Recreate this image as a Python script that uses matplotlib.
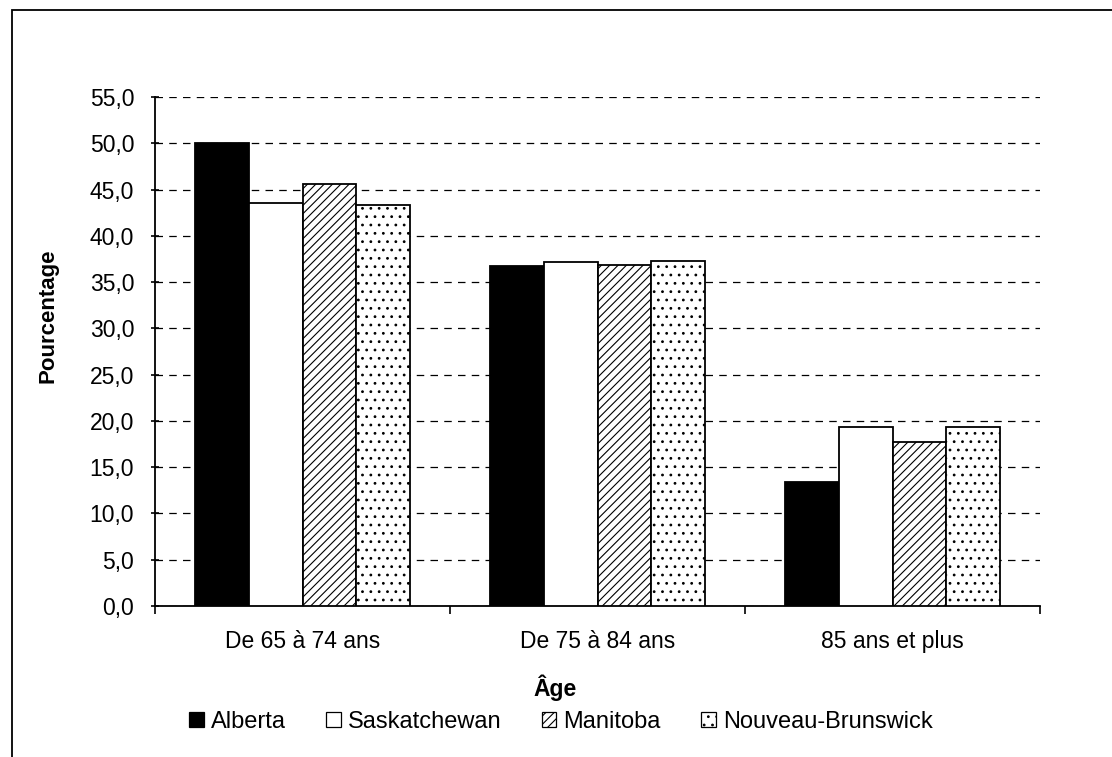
import numpy as np
import matplotlib
matplotlib.use("Agg")
from matplotlib import pyplot as plt
from matplotlib.patches import Rectangle
from matplotlib.ticker import FuncFormatter, MultipleLocator

plt.rcParams['font.family'] = ['Liberation Sans', 'DejaVu Sans']
plt.rcParams['hatch.linewidth'] = 0.8

# donnees
groupes = ['De 65 à 74 ans', 'De 75 à 84 ans', '85 ans et plus']
provinces = ['Alberta', 'Saskatchewan', 'Manitoba', 'Nouveau-Brunswick']
alberta = [50.0, 36.7, 13.4]
saskatchewan = [43.5, 37.2, 19.3]
manitoba = [45.6, 36.9, 17.7]
nouveau_brunswick = [43.3, 37.3, 19.3]
series = [alberta, saskatchewan, manitoba, nouveau_brunswick]

couleurs = ['black', 'white', 'white', 'white']
hachures = [None, None, '////', '..']

fig = plt.figure(figsize=(11.12, 7.57), dpi=100)
ax = fig.add_axes([155/1112, 1-606/757, 885/1112, 509/757])

x = np.arange(len(groupes))
w = 0.183
for i, vals in enumerate(series):
    ax.bar(x + (i - 1.5)*w, vals, w, color=couleurs[i], edgecolor='black',
           linewidth=1.3, hatch=hachures[i], label=provinces[i], zorder=3)

ax.set_xlim(-0.5, 2.5)
ax.set_ylim(0, 55)
ax.yaxis.set_major_locator(MultipleLocator(5))
ax.yaxis.set_major_formatter(FuncFormatter(lambda v, p: f"{v:.1f}".replace('.', ',')))
ax.grid(axis='y', color='black', linestyle=(0, (6, 5)), linewidth=0.9, zorder=0)

ax.set_xticks(x)
ax.set_xticklabels(groupes, fontsize=16.5)
ax.set_xticks([-0.5, 0.5, 1.5, 2.5], minor=True)
ax.tick_params(axis='x', which='major', length=0, pad=17)
ax.tick_params(axis='x', which='minor', length=6, width=1.2, direction='out')
ax.tick_params(axis='y', length=6, width=1.2, direction='inout', labelsize=16.5, pad=12)

for s in ['top', 'right']:
    ax.spines[s].set_visible(False)
ax.spines['left'].set_linewidth(1.3)
ax.spines['bottom'].set_linewidth(1.3)

fig.text(555/1112, 1-688/757, 'Âge', ha='center', va='center', fontsize=16.5, fontweight='bold')
fig.text(48/1112, 1-316/757, 'Pourcentage', ha='center', va='center', rotation=90,
         fontsize=16, fontweight='bold')

handles, labels = ax.get_legend_handles_labels()
leg = fig.legend(handles, labels, loc='center', bbox_to_anchor=(561/1112, 1-722/757),
                 ncol=4, frameon=False, fontsize=17, handlelength=0.62, handleheight=0.62,
                 handletextpad=0.3, columnspacing=1.7)
for h in leg.legend_handles:
    h.set_linewidth(0.9)

# cadre de la zone du graphique
fig.patches.append(Rectangle((12/1112, -0.05), 1.1, 1-10/757 + 0.05, transform=fig.transFigure,
                             fill=False, edgecolor='black', linewidth=1.3))

fig.savefig('out.png', dpi=100)
